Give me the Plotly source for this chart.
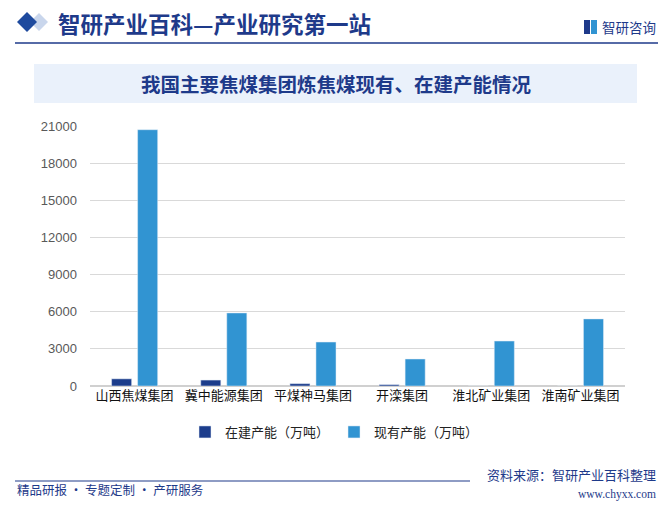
import plotly.graph_objects as go

categories = ["山西焦煤集团", "冀中能源集团", "平煤神马集团", "开滦集团", "淮北矿业集团", "淮南矿业集团"]
under_construction = [580, 480, 190, 110, 0, 0]
existing = [20700, 5900, 3550, 2180, 3630, 5420]
y_ticks = [0, 3000, 6000, 9000, 12000, 15000, 18000, 21000]
y_tick_labels = ["0", "3000", "6000", "9000", "12000", "15000", "18000", "21000"]

DARK = "#1C3D8C"
LIGHT = "#3194D2"
NAVY = "#1E3A8A"
CJK = "Noto Sans CJK SC"

fig = go.Figure()
fig.add_trace(go.Bar(x=categories, y=under_construction, name="在建产能（万吨）",
                     marker_color=DARK, width=0.225, offset=-0.258))
fig.add_trace(go.Bar(x=categories, y=existing, name="现有产能（万吨）",
                     marker_color=LIGHT, width=0.225, offset=0.034))

W, H = 669, 507
L, R, T, B = 90, 44, 126, 121

fig.update_layout(
    width=W, height=H,
    margin=dict(l=L, r=R, t=T, b=B, autoexpand=False),
    paper_bgcolor="white", plot_bgcolor="white",
    showlegend=True,
    legend=dict(orientation="h", x=0.5, xanchor="center", xref="container",
                y=1 - 432 / H, yanchor="middle", yref="container",
                font=dict(family=CJK, size=13, color="#222222"),
                itemwidth=30, traceorder="normal"),
    xaxis=dict(showline=False, ticks="", tickfont=dict(family=CJK, size=13, color="#111111"),
               showgrid=False, automargin=False),
    yaxis=dict(range=[0, 21000], tickvals=y_ticks, ticktext=y_tick_labels, showgrid=True,
               gridcolor="#D9D9D9", gridwidth=1, zeroline=True, zerolinecolor="#D0D0D0",
               tickfont=dict(family="Liberation Sans, Arial", size=13, color="#595959"),
               ticklabelstandoff=12, automargin=False),
)


def px(x):
    return (x - L) / (W - L - R)


def py(y):
    return (H - B - y) / (H - T - B)


shapes = []
shapes.append(dict(type="line", xref="paper", yref="paper", x0=px(15), x1=px(658),
                   y0=py(43), y1=py(43), line=dict(color=NAVY, width=1.5)))
shapes.append(dict(type="line", xref="paper", yref="paper", x0=px(15), x1=px(470),
                   y0=py(481), y1=py(481), line=dict(color=NAVY, width=1.2)))
shapes.append(dict(type="rect", xref="paper", yref="paper", x0=px(34), x1=px(637),
                   y0=py(103), y1=py(64), fillcolor="#EAF1FB", line=dict(width=0), layer="below"))
shapes.append(dict(type="path", xref="paper", yref="paper",
                   path=f"M {px(30)} {py(22)} L {px(39)} {py(13)} L {px(48)} {py(22)} L {px(39)} {py(31)} Z",
                   fillcolor="#C9D6EC", line=dict(width=0)))
shapes.append(dict(type="path", xref="paper", yref="paper",
                   path=f"M {px(17)} {py(22)} L {px(27)} {py(12)} L {px(37)} {py(22)} L {px(27)} {py(32)} Z",
                   fillcolor="#1E4A9E", line=dict(width=0)))
shapes.append(dict(type="rect", xref="paper", yref="paper", x0=px(584), x1=px(590),
                   y0=py(34), y1=py(20), fillcolor="#1E3A8A", line=dict(width=0)))
shapes.append(dict(type="rect", xref="paper", yref="paper", x0=px(591), x1=px(597),
                   y0=py(34), y1=py(20), fillcolor="#3194D2", line=dict(width=0)))
fig.update_layout(shapes=shapes)

ann = []
ann.append(dict(text="<b>智研产业百科—产业研究第一站</b>", xref="paper", yref="paper",
                x=px(56), y=py(23), xanchor="left", yanchor="middle", showarrow=False,
                font=dict(family=CJK, size=22.5, color=NAVY)))
ann.append(dict(text="智研咨询", xref="paper", yref="paper", x=px(600), y=py(27),
                xanchor="left", yanchor="middle", showarrow=False,
                font=dict(family=CJK, size=13.5, color=NAVY)))
ann.append(dict(text="<b>我国主要焦煤集团炼焦煤现有、在建产能情况</b>", xref="paper", yref="paper",
                x=px(336), y=py(84), xanchor="center", yanchor="middle", showarrow=False,
                font=dict(family=CJK, size=19.5, color=NAVY)))
ann.append(dict(text="资料来源：智研产业百科整理", xref="paper", yref="paper",
                x=px(658), y=py(474), xanchor="right", yanchor="middle", showarrow=False,
                font=dict(family=CJK, size=13, color=NAVY)))
ann.append(dict(text="www.chyxx.com", xref="paper", yref="paper",
                x=px(658), y=py(494), xanchor="right", yanchor="middle", showarrow=False,
                font=dict(family="Liberation Serif", size=11.5, color=NAVY)))
ann.append(dict(text="精品研报 · 专题定制 · 产研服务", xref="paper", yref="paper",
                x=px(15), y=py(489), xanchor="left", yanchor="middle", showarrow=False,
                font=dict(family=CJK, size=12.5, color=NAVY)))
fig.update_layout(annotations=ann)

fig.write_html("out.html", config={"displayModeBar": False},
               post_script="document.body.style.margin='0';document.body.style.padding='0';")
